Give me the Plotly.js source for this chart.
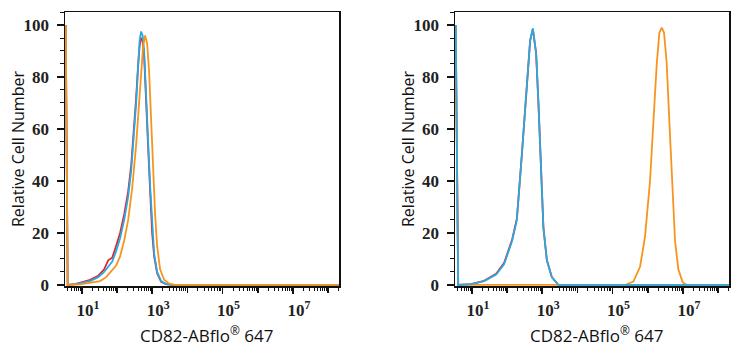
<!DOCTYPE html>
<html>
<head>
<meta charset="utf-8">
<script src="https://cdn.plot.ly/plotly-3.0.1.min.js"></script>
<style>
  html, body { margin: 0; padding: 0; background: #ffffff; }
  #chart { width: 742px; height: 350px; }
</style>
</head>
<body>
<div id="chart"></div>
<script>
// ---------- data (fluorescence intensity vs relative cell number) ----------
// Left panel
const leftBlueX = [3.47, 3.95, 6.45, 10.2, 17.2, 29, 43, 56, 73, 94, 122, 159, 207, 252, 306, 349, 398, 438, 484, 534, 589, 671, 765, 872, 994, 1133, 1378, 1790, 2483, 3676, 2e8];
const leftBlueY = [100, 0, 0.3, 0.8, 1.5, 3, 5, 7, 9, 13, 18, 25, 34, 44, 58, 70, 84, 94, 97.5, 96, 90, 75, 55, 38, 22, 12, 5, 1.5, 0.3, 0, 0];

const leftRedX = [3.47, 3.95, 6.45, 10.2, 17.2, 29, 43, 56, 73, 94, 122, 159, 207, 252, 306, 349, 398, 438, 484, 534, 589, 671, 765, 872, 994, 1133, 1378, 1790, 2483, 3676, 2e8];
const leftRedY = [100, 0, 0.3, 1, 2, 3.5, 6, 9.5, 10.5, 15, 20, 27, 36, 46, 60, 72, 85, 92, 95, 94, 88, 73, 53, 36, 20, 11, 4.5, 1.2, 0.3, 0, 0];

const leftOrangeX = [3.47, 3.95, 8.95, 17.2, 33.1, 49, 72.6, 94.2, 122, 159, 207, 268, 349, 425, 484, 552, 629, 716, 816, 930, 1061, 1209, 1378, 1675, 2178, 3020, 4470, 2e8];
const leftOrangeY = [100, 0, 0.2, 0.8, 1.5, 3, 5.5, 7.5, 11, 17, 25, 37, 54, 71, 83, 92, 96, 93, 82, 64, 44, 27, 15, 6, 2, 0.5, 0, 0];

// Right panel
const rightBlueX = [3.47, 4.08, 9.55, 22.3, 49, 82.8, 139.6, 190, 263, 365, 453, 541, 671, 780, 912, 1081, 1352, 1875, 2884, 2e8];
const rightBlueY = [100, 0, 0.3, 1.5, 4, 8, 17, 25, 50, 76, 94, 98.7, 89, 70, 44, 22, 9.6, 3, 0, 0];

const rightRedX = [3.47, 4.08, 9.55, 22.3, 49, 82.8, 139.6, 190, 263, 365, 453, 541, 671, 780, 912, 1081, 1352, 1875, 2884, 2e8];
const rightRedY = [100, 0, 0.3, 1.6, 4.3, 8.5, 17.5, 25.5, 50, 76, 94, 98.5, 89, 70, 44, 22, 9.6, 3, 0, 0];

const rightOrangeX = [3.47, 4.08, 226500, 390000, 604000, 837000, 1.16e6, 1.51e6, 1.80e6, 2.14e6, 2.50e6, 2.91e6, 3.47e6, 4.11e6, 4.90e6, 5.97e6, 7.40e6, 9.86e6, 1.28e7, 2e8];
const rightOrangeY = [100, 0, 0, 1.3, 7, 18.6, 40, 70, 85, 97, 99, 97, 85, 63, 38, 17, 6, 1, 0, 0];

// ---------- axis labels ----------
const xLabelVals = [1e1, 1e3, 1e5, 1e7];
const xLabelText = ['10<sup>1</sup>', '10<sup>3</sup>', '10<sup>5</sup>', '10<sup>7</sup>'];
const xUnlabelledDecades = [1e2, 1e4, 1e6, 1e8];
const yTickVals = [0, 20, 40, 60, 80, 100];
const yTickText = ['0', '20', '40', '60', '80', '100'];
const xTitle = 'CD82-ABflo<sup>®</sup> 647';
const yTitle = 'Relative Cell Number';

// ---------- styling ----------
const RED = '#E4232B', BLUE = '#27AAE1', ORANGE = '#F7941E';
const LW = 1.8;
const INK = '#111111';

function trace(x, y, color, xa, ya) {
  return { x: x, y: y, type: 'scatter', mode: 'lines', xaxis: xa, yaxis: ya,
           line: { color: color, width: LW }, hoverinfo: 'skip', showlegend: false };
}

const data = [
  trace(leftRedX, leftRedY, RED, 'x', 'y'),
  trace(leftBlueX, leftBlueY, BLUE, 'x', 'y'),
  trace(leftOrangeX, leftOrangeY, ORANGE, 'x', 'y'),
  trace(rightRedX, rightRedY, RED, 'x2', 'y2'),
  trace(rightOrangeX, rightOrangeY, ORANGE, 'x2', 'y2'),
  trace(rightBlueX, rightBlueY, BLUE, 'x2', 'y2'),
  // carriers for the overlay axes that draw the unlabelled decade ticks
  { x: [], y: [], type: 'scatter', mode: 'lines', xaxis: 'x3', yaxis: 'y', showlegend: false, hoverinfo: 'skip' },
  { x: [], y: [], type: 'scatter', mode: 'lines', xaxis: 'x4', yaxis: 'y2', showlegend: false, hoverinfo: 'skip' }
];

// minor log ticks 2..9 per decade
const minorX = [];
for (let d = 0; d <= 8; d++) {
  for (let m = 2; m <= 9; m++) minorX.push(m * Math.pow(10, d));
}
const minorY = [];
for (let v = 0; v <= 105; v += 5) if (v % 20 !== 0) minorY.push(v);

const serif = 'Liberation Serif, Times New Roman, serif';
const titleFamily = 'Open Sans, Noto Sans, sans-serif';
const XRANGE = [0.52, 8.31];

function xAxis(domain, anchor) {
  return {
    type: 'log', range: XRANGE, domain: domain, anchor: anchor,
    showgrid: false, zeroline: false, showline: true, linecolor: INK, linewidth: 1.5, mirror: true,
    ticks: 'outside', ticklen: 6, tickwidth: 1.5, tickcolor: INK,
    tickmode: 'array', tickvals: xLabelVals, ticktext: xLabelText,
    tickfont: { family: serif, size: 17, color: '#222222', weight: 700 },
    ticklabelstandoff: 2, ticklabelshift: 6,
    minor: { tickmode: 'array', tickvals: minorX, ticks: 'outside', ticklen: 3, tickwidth: 1, tickcolor: INK, showgrid: false }
  };
}
function xOverlay(domain, anchor, over) {
  return {
    type: 'log', range: XRANGE, domain: domain, anchor: anchor, overlaying: over,
    showgrid: false, zeroline: false, showline: false,
    ticks: 'outside', ticklen: 6, tickwidth: 1.5, tickcolor: INK,
    tickmode: 'array', tickvals: xUnlabelledDecades, showticklabels: false
  };
}
function yAxis(anchor) {
  return {
    range: [-0.4, 105], domain: [0, 1], anchor: anchor,
    showgrid: false, zeroline: false, showline: true, linecolor: INK, linewidth: 1.5, mirror: true,
    ticks: 'outside', ticklen: 7, tickwidth: 1.5, tickcolor: INK,
    tickmode: 'array', tickvals: yTickVals, ticktext: yTickText,
    tickfont: { family: serif, size: 17, color: '#222222', weight: 700 }, ticklabelstandoff: 4,
    minor: { tickmode: 'array', tickvals: minorY, ticks: 'outside', ticklen: 4, tickwidth: 1, tickcolor: INK, showgrid: false }
  };
}

const dL = [65 / 742, 339 / 742];
const dR = [455 / 742, 729 / 742];

// axis titles placed as paper annotations (plot area spans paper y 0..1, paper x = px/742)
function titles(xCenterPx, yTitleCenterPx) {
  return [
    { text: xTitle, xref: 'paper', yref: 'paper', x: xCenterPx / 742, y: -0.178,
      xanchor: 'center', yanchor: 'middle', showarrow: false,
      font: { family: titleFamily, size: 17, color: INK } },
    { text: yTitle, xref: 'paper', yref: 'paper', x: yTitleCenterPx / 742, y: 0.5,
      xanchor: 'center', yanchor: 'middle', showarrow: false, textangle: -90,
      font: { family: titleFamily, size: 16, color: INK } }
  ];
}

const layout = {
  width: 742, height: 350,
  margin: { l: 0, r: 0, t: 12, b: 64 },
  paper_bgcolor: '#ffffff', plot_bgcolor: '#ffffff',
  showlegend: false,
  xaxis: xAxis(dL, 'y'),
  yaxis: yAxis('x'),
  xaxis2: xAxis(dR, 'y2'),
  yaxis2: yAxis('x2'),
  xaxis3: xOverlay(dL, 'y', 'x'),
  xaxis4: xOverlay(dR, 'y2', 'x2'),
  annotations: titles(206, 18).concat(titles(596, 408))
};

Plotly.newPlot('chart', data, layout, { staticPlot: true, displayModeBar: false });
</script>
</body>
</html>
